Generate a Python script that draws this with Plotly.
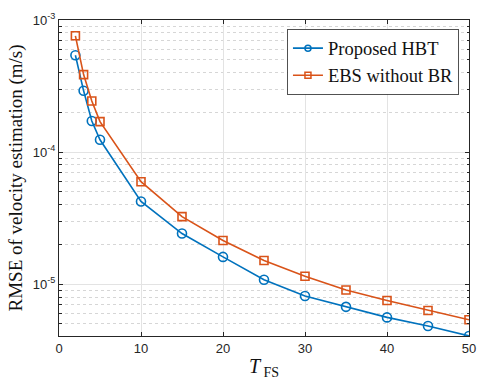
import plotly.graph_objects as go

# Frame size T_FS and RMSE of velocity estimation (m/s)
t_fs = [2, 3, 4, 5, 10, 15, 20, 25, 30, 35, 40, 45, 50]
rmse_hbt = [5.41e-4, 2.91e-4, 1.72e-4, 1.24e-4, 4.23e-5, 2.42e-5, 1.61e-5,
            1.08e-5, 8.15e-6, 6.74e-6, 5.61e-6, 4.83e-6, 4.06e-6]
rmse_ebs = [7.59e-4, 3.86e-4, 2.44e-4, 1.70e-4, 5.97e-5, 3.25e-5, 2.14e-5,
            1.51e-5, 1.15e-5, 9.03e-6, 7.52e-6, 6.33e-6, 5.38e-6]
series_names = ["Proposed HBT", "EBS without BR"]
x_ticks = [0, 10, 20, 30, 40, 50]
y_major = [1e-5, 1e-4, 1e-3]
y_minor = [m * 10.0 ** e for e in (-6, -5, -4) for m in range(2, 10) if m * 10.0 ** e > 4e-6]

blue = "#0072BD"
orange = "#D95319"
serif = "Liberation Serif, Times New Roman, serif"
sans = "Liberation Sans, Arial, sans-serif"

fig = go.Figure()
styles = [(rmse_hbt, blue, "circle-open", 9), (rmse_ebs, orange, "square-open", 8)]
for name, (vals, col, sym, size) in zip(series_names, styles):
    fig.add_trace(go.Scatter(
        x=t_fs, y=vals, name=name, mode="lines+markers", showlegend=False,
        line=dict(color=col, width=1.6),
        marker=dict(symbol=sym, size=size, color=col, line=dict(width=1.6)),
    ))
# legend entries use smaller markers
for name, (vals, col, sym, size) in zip(series_names, styles):
    fig.add_trace(go.Scatter(
        x=[None], y=[None], name=name, mode="lines+markers",
        line=dict(color=col, width=1.6),
        marker=dict(symbol=sym, size=6, color=col, line=dict(width=1.5)),
    ))

fig.update_layout(
    width=487, height=387,
    margin=dict(l=59, r=11, t=16, b=51),
    paper_bgcolor="white", plot_bgcolor="white",
    showlegend=True,
    legend=dict(
        x=0.976, y=0.972, xanchor="right", yanchor="top",
        bgcolor="white", bordercolor="#262626", borderwidth=0.8,
        font=dict(family=serif, size=18.5, color="#111111"),
        tracegroupgap=0, itemwidth=30,
    ),
)

fig.update_xaxes(
    range=[0, 50], tickvals=x_ticks, ticktext=[str(v) for v in x_ticks],
    ticks="inside", ticklen=4, tickcolor="#262626",
    showline=True, linecolor="#262626", linewidth=1, mirror="ticks",
    showgrid=True, gridcolor="#e3e3e3", gridwidth=1, zeroline=False,
    tickfont=dict(family=sans, size=13, color="#262626"),
    title=dict(text="<i>T</i><sub> FS</sub>", font=dict(family=serif, size=20, color="#111111"), standoff=4),
)
fig.update_yaxes(
    type="log", range=[-5.392, -3],
    tickvals=y_major, ticktext=["10<sup>-5</sup>", "10<sup>-4</sup>", "10<sup>-3</sup>"],
    ticks="inside", ticklen=4, tickcolor="#262626",
    showline=True, linecolor="#262626", linewidth=1, mirror="ticks",
    showgrid=True, gridcolor="#e3e3e3", gridwidth=1.2, zeroline=False,
    tickfont=dict(family=sans, size=13, color="#262626"),
    minor=dict(tickmode="array", tickvals=y_minor, ticks="inside", ticklen=2.5,
               tickcolor="#262626", showgrid=True, gridcolor="#d6d6d6",
               griddash="dot", gridwidth=1),
    title=dict(text="RMSE of velocity estimation (m/s)", font=dict(family=serif, size=19, color="#111111"), standoff=5),
)

fig.write_html("out.html")
